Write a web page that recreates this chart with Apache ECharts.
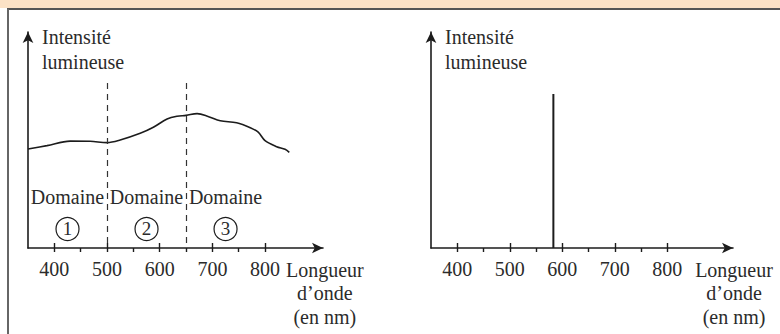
<!DOCTYPE html>
<html>
<head>
<meta charset="utf-8">
<script src="https://cdn.jsdelivr.net/npm/echarts@6/dist/echarts.min.js"></script>
<style>
html,body{margin:0;padding:0;background:#fff;}
#chart{width:780px;height:334px;}
</style>
</head>
<body>
<div id="chart"></div>
<script>
// ---- data ----
const majorTicks = [400, 500, 600, 700, 800];
const minorTicks = [450, 550, 650, 750];
const curveX = [350, 386, 430, 468, 500, 525, 563, 588, 614, 633, 650, 671, 693, 715, 746, 772, 787, 800, 822, 838, 846];
const curveY = [45.8, 47.4, 49.5, 49.4, 48.8, 50, 53.1, 55.9, 59.7, 61, 61.4, 62.2, 60.8, 58.9, 58, 55.7, 53.6, 49.7, 46.9, 45.7, 44.3];
const spikeX = [583, 583];
const spikeY = [0, 71.3];
const dividerX = [500, 650];
const dividerTop = 76.4;
const domainCenters = [425, 575, 725];
const domainLabels = ['Domaine', 'Domaine', 'Domaine'];
const domainNums = ['1', '2', '3'];
const domainTextY = 23.6;
const domainNumY = 8.8;
const yTitle = 'Intensité\nlumineuse';
const xTitle = 'Longueur\nd’onde\n(en nm)';

const FONT = 'Liberation Serif';
const INK = '#1c1c1c';
const TXT = '#2b2b2b';
const PLOT_H = 216;

function mainX(grid, max) {
  return {
    gridIndex: grid, type: 'value', position: 'bottom', min: 350, max: max,
    axisLine: {show: true, onZero: false, symbol: ['none', 'arrow'], symbolSize: [8, 11],
      lineStyle: {color: INK, width: 1.6}},
    axisTick: {show: true, customValues: majorTicks.concat(minorTicks), length: 4,
      lineStyle: {color: INK, width: 1.4}},
    axisLabel: {show: true, customValues: majorTicks, margin: 11,
      fontFamily: FONT, fontSize: 20, color: TXT},
    splitLine: {show: false},
    name: xTitle, nameLocation: 'end', nameGap: 1,
    nameTextStyle: {fontFamily: FONT, fontSize: 20, color: TXT, align: 'center',
      verticalAlign: 'top', lineHeight: 23.5, padding: [10, 0, 0, 0]}
  };
}
// second axis on the same line, carrying the upper halves of the major ticks
function upperTicksX(grid, max) {
  return {
    gridIndex: grid, type: 'value', position: 'top', offset: -PLOT_H, min: 350, max: max,
    axisLine: {show: false, onZero: false},
    axisTick: {show: true, inside: false, customValues: majorTicks, length: 5,
      lineStyle: {color: INK, width: 1.4}},
    axisLabel: {show: false},
    splitLine: {show: false}
  };
}
function mainY(grid) {
  return {
    gridIndex: grid, type: 'value', position: 'left', min: 0, max: 100,
    axisLine: {show: true, onZero: false, symbol: ['none', 'arrow'], symbolSize: [8, 11],
      lineStyle: {color: INK, width: 1.6}},
    axisTick: {show: false}, axisLabel: {show: false}, splitLine: {show: false},
    name: yTitle, nameLocation: 'end', nameGap: 8,
    nameTextStyle: {fontFamily: FONT, fontSize: 20, color: TXT, align: 'left',
      verticalAlign: 'top', lineHeight: 25, padding: [0, 0, 0, 14]}
  };
}

const chart = echarts.init(document.getElementById('chart'), null, {renderer: 'svg'});

const markPts = [];
domainCenters.forEach((c, i) => {
  markPts.push({coord: [c, domainTextY], symbolSize: 0,
    label: {show: true, position: 'inside', formatter: domainLabels[i],
      fontFamily: FONT, fontSize: 20, color: TXT}});
  markPts.push({coord: [c, domainNumY], symbol: 'circle', symbolSize: 23,
    itemStyle: {color: 'rgba(0,0,0,0)', borderColor: INK, borderWidth: 1.2},
    label: {show: true, position: 'inside', formatter: domainNums[i],
      fontFamily: FONT, fontSize: 19, color: TXT}});
});

chart.setOption({
  animation: false,
  backgroundColor: '#fff',
  textStyle: {fontFamily: FONT},
  graphic: [
    {type: 'rect', shape: {x: 0, y: 0, width: 780, height: 8}, style: {fill: '#FCE2C6'}, silent: true},
    {type: 'line', shape: {x1: 7, y1: 9, x2: 780, y2: 9}, style: {stroke: '#555', lineWidth: 2}, silent: true},
    {type: 'line', shape: {x1: 8, y1: 9, x2: 8, y2: 334}, style: {stroke: '#666', lineWidth: 2}, silent: true}
  ],
  grid: [
    {left: 28, top: 32, width: 295, height: PLOT_H},
    {left: 431, top: 32, width: 302, height: PLOT_H}
  ],
  xAxis: [mainX(0, 910), upperTicksX(0, 910), mainX(1, 925), upperTicksX(1, 925)],
  yAxis: [mainY(0), mainY(1)],
  series: [
    {
      type: 'line', xAxisIndex: 0, yAxisIndex: 0,
      data: curveX.map((x, i) => [x, curveY[i]]),
      smooth: 0.35, showSymbol: false, silent: true,
      lineStyle: {color: INK, width: 1.6},
      markLine: {
        silent: true, symbol: 'none', label: {show: false},
        lineStyle: {color: '#333', width: 1.2, type: [6, 5]},
        data: dividerX.map(x => [{coord: [x, dividerTop]}, {coord: [x, 0]}])
      },
      markPoint: {silent: true, data: markPts}
    },
    {
      type: 'line', xAxisIndex: 2, yAxisIndex: 1,
      data: spikeX.map((x, i) => [x, spikeY[i]]),
      showSymbol: false, silent: true,
      lineStyle: {color: INK, width: 2}
    }
  ]
});
</script>
</body>
</html>
